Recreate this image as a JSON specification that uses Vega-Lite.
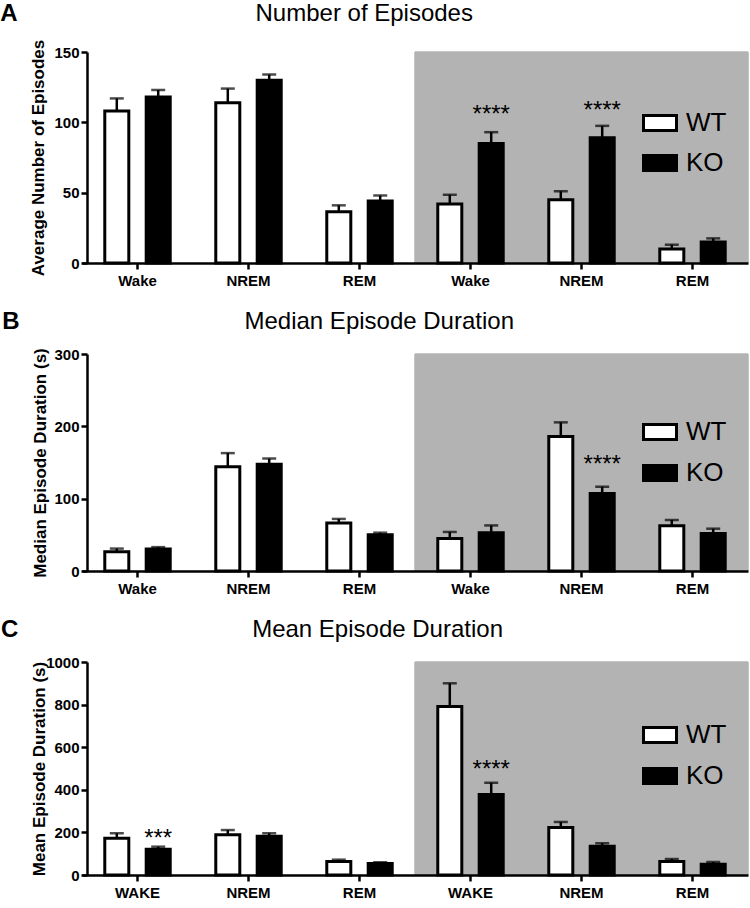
{
  "$schema": "https://vega.github.io/schema/vega-lite/v6.json",
  "padding": {"left": 0, "top": 2, "right": 0, "bottom": 0},
  "datasets": {
    "A": [
      {"cat": "Wake|L", "phase": "Light", "grp": "WT", "mean": 108, "upper": 117},
      {"cat": "Wake|L", "phase": "Light", "grp": "KO", "mean": 118, "upper": 123},
      {"cat": "NREM|L", "phase": "Light", "grp": "WT", "mean": 114, "upper": 124},
      {"cat": "NREM|L", "phase": "Light", "grp": "KO", "mean": 130, "upper": 134},
      {"cat": "REM|L", "phase": "Light", "grp": "WT", "mean": 36.5, "upper": 41},
      {"cat": "REM|L", "phase": "Light", "grp": "KO", "mean": 44, "upper": 48},
      {"cat": "Wake|D", "phase": "Dark", "grp": "WT", "mean": 42, "upper": 48.5},
      {"cat": "Wake|D", "phase": "Dark", "grp": "KO", "mean": 85, "upper": 93},
      {"cat": "NREM|D", "phase": "Dark", "grp": "WT", "mean": 45, "upper": 51},
      {"cat": "NREM|D", "phase": "Dark", "grp": "KO", "mean": 89, "upper": 97.5},
      {"cat": "REM|D", "phase": "Dark", "grp": "WT", "mean": 10, "upper": 13},
      {"cat": "REM|D", "phase": "Dark", "grp": "KO", "mean": 15, "upper": 17.5}
    ],
    "Asig": [
      {"cat": "Wake|D", "grp": "KO", "sig": "****", "pos": 105},
      {"cat": "NREM|D", "grp": "KO", "sig": "****", "pos": 108}
    ],
    "B": [
      {"cat": "Wake|L", "phase": "Light", "grp": "WT", "mean": 26.5, "upper": 31},
      {"cat": "Wake|L", "phase": "Light", "grp": "KO", "mean": 30.5, "upper": 33},
      {"cat": "NREM|L", "phase": "Light", "grp": "WT", "mean": 144, "upper": 163},
      {"cat": "NREM|L", "phase": "Light", "grp": "KO", "mean": 147.5, "upper": 155.5},
      {"cat": "REM|L", "phase": "Light", "grp": "WT", "mean": 66.5, "upper": 72},
      {"cat": "REM|L", "phase": "Light", "grp": "KO", "mean": 50, "upper": 53},
      {"cat": "Wake|D", "phase": "Dark", "grp": "WT", "mean": 45, "upper": 54},
      {"cat": "Wake|D", "phase": "Dark", "grp": "KO", "mean": 53, "upper": 63},
      {"cat": "NREM|D", "phase": "Dark", "grp": "WT", "mean": 186, "upper": 205.5},
      {"cat": "NREM|D", "phase": "Dark", "grp": "KO", "mean": 107, "upper": 116.5},
      {"cat": "REM|D", "phase": "Dark", "grp": "WT", "mean": 62.5, "upper": 70.5},
      {"cat": "REM|D", "phase": "Dark", "grp": "KO", "mean": 52, "upper": 58.5}
    ],
    "Bsig": [
      {"cat": "NREM|D", "grp": "KO", "sig": "****", "pos": 146}
    ],
    "C": [
      {"cat": "WAKE|L", "phase": "Light", "grp": "WT", "mean": 173, "upper": 196},
      {"cat": "WAKE|L", "phase": "Light", "grp": "KO", "mean": 121, "upper": 133},
      {"cat": "NREM|L", "phase": "Light", "grp": "WT", "mean": 189, "upper": 211},
      {"cat": "NREM|L", "phase": "Light", "grp": "KO", "mean": 182, "upper": 196},
      {"cat": "REM|L", "phase": "Light", "grp": "WT", "mean": 63, "upper": 72},
      {"cat": "REM|L", "phase": "Light", "grp": "KO", "mean": 54, "upper": 60},
      {"cat": "WAKE|D", "phase": "Dark", "grp": "WT", "mean": 791, "upper": 900},
      {"cat": "WAKE|D", "phase": "Dark", "grp": "KO", "mean": 378, "upper": 433},
      {"cat": "NREM|D", "phase": "Dark", "grp": "WT", "mean": 223, "upper": 249},
      {"cat": "NREM|D", "phase": "Dark", "grp": "KO", "mean": 135, "upper": 149},
      {"cat": "REM|D", "phase": "Dark", "grp": "WT", "mean": 63, "upper": 75},
      {"cat": "REM|D", "phase": "Dark", "grp": "KO", "mean": 51, "upper": 61}
    ],
    "Csig": [
      {"cat": "WAKE|L", "grp": "KO", "sig": "***", "pos": 171},
      {"cat": "WAKE|D", "grp": "KO", "sig": "****", "pos": 492}
    ]
  },
  "vconcat": [
    {
      "title": {"text": "A", "orient": "left", "anchor": "end", "angle": 0, "baseline": "top", "align": "right", "fontSize": 24, "fontWeight": "bold", "offset": -5, "frame": "bounds"},
      "vconcat": [
        {
          "title": {"text": "Number of Episodes", "dx": -25},
          "width": 666, "height": 211,
          "layer": [
            {
              "data": {"name": "A"},
              "transform": [{"filter": "datum.phase === 'Dark'"}],
              "mark": {"type": "rect", "fill": "#b3b3b3", "stroke": "#b3b3b3", "strokeWidth": 1},
              "encoding": {
                "x": {"field": "cat", "type": "nominal", "scale": {"domain": ["Wake|L", "NREM|L", "REM|L", "Wake|D", "NREM|D", "REM|D"], "paddingInner": 0, "paddingOuter": 0}, "axis": {"labelExpr": "split(datum.value, '|')[0]", "title": null}}
              }
            },
            {
              "data": {"name": "A"},
              "mark": {"type": "bar", "stroke": "black", "strokeWidth": 3},
              "encoding": {
                "x": {"field": "cat", "type": "nominal"},
                "xOffset": {"field": "grp", "type": "nominal", "scale": {"domain": ["WT", "KO"], "paddingInner": 0.42, "paddingOuter": 0.55}},
                "y": {"field": "mean", "type": "quantitative", "scale": {"domain": [0, 150], "nice": false}, "axis": {"title": "Average Number of Episodes", "values": [0, 50, 100, 150], "titlePadding": 6}},
                "fill": {"field": "grp", "type": "nominal", "scale": {"domain": ["WT", "KO"], "range": ["white", "black"]}, "legend": {"orient": "none", "legendX": 560, "legendY": 53, "title": null, "padding": 0, "symbolType": "M-1,-0.45H1V0.45H-1Z", "symbolSize": 1089, "symbolStrokeColor": "black", "symbolStrokeWidth": 3, "labelFontSize": 26, "labelOffset": 8, "rowPadding": 8, "labelColor": "black"}}
              }
            },
            {
              "data": {"name": "A"},
              "mark": {"type": "rule", "color": "black", "strokeWidth": 2.5},
              "encoding": {
                "x": {"field": "cat", "type": "nominal"},
                "xOffset": {"field": "grp", "type": "nominal"},
                "y": {"field": "mean", "type": "quantitative", "title": "Average Number of Episodes"},
                "y2": {"field": "upper"}
              }
            },
            {
              "data": {"name": "A"},
              "mark": {"type": "tick", "color": "black", "thickness": 2.5, "size": 14},
              "encoding": {
                "x": {"field": "cat", "type": "nominal"},
                "xOffset": {"field": "grp", "type": "nominal"},
                "y": {"field": "upper", "type": "quantitative", "title": "Average Number of Episodes"}
              }
            },
            {
              "data": {"name": "Asig"},
              "mark": {"type": "text", "fontSize": 24, "baseline": "middle", "color": "black"},
              "encoding": {
                "x": {"field": "cat", "type": "nominal"},
                "xOffset": {"field": "grp", "type": "nominal"},
                "y": {"field": "pos", "type": "quantitative", "title": "Average Number of Episodes"},
                "text": {"field": "sig"}
              }
            }
          ]
        }
      ]
    },
    {
      "title": {"text": "B", "orient": "left", "anchor": "end", "angle": 0, "baseline": "top", "align": "right", "fontSize": 24, "fontWeight": "bold", "offset": -5, "frame": "bounds"},
      "vconcat": [
        {
          "title": {"text": "Median Episode Duration", "dx": -11},
          "width": 666, "height": 217,
          "layer": [
            {
              "data": {"name": "B"},
              "transform": [{"filter": "datum.phase === 'Dark'"}],
              "mark": {"type": "rect", "fill": "#b3b3b3", "stroke": "#b3b3b3", "strokeWidth": 1},
              "encoding": {
                "x": {"field": "cat", "type": "nominal", "scale": {"domain": ["Wake|L", "NREM|L", "REM|L", "Wake|D", "NREM|D", "REM|D"], "paddingInner": 0, "paddingOuter": 0}, "axis": {"labelExpr": "split(datum.value, '|')[0]", "title": null}}
              }
            },
            {
              "data": {"name": "B"},
              "mark": {"type": "bar", "stroke": "black", "strokeWidth": 3},
              "encoding": {
                "x": {"field": "cat", "type": "nominal"},
                "xOffset": {"field": "grp", "type": "nominal", "scale": {"domain": ["WT", "KO"], "paddingInner": 0.42, "paddingOuter": 0.55}},
                "y": {"field": "mean", "type": "quantitative", "scale": {"domain": [0, 300], "nice": false}, "axis": {"title": "Median Episode Duration (s)", "values": [0, 100, 200, 300], "titlePadding": 4}},
                "fill": {"field": "grp", "type": "nominal", "scale": {"domain": ["WT", "KO"], "range": ["white", "black"]}, "legend": {"orient": "none", "legendX": 560, "legendY": 60, "title": null, "padding": 0, "symbolType": "M-1,-0.45H1V0.45H-1Z", "symbolSize": 1089, "symbolStrokeColor": "black", "symbolStrokeWidth": 3, "labelFontSize": 26, "labelOffset": 8, "rowPadding": 9, "labelColor": "black"}}
              }
            },
            {
              "data": {"name": "B"},
              "mark": {"type": "rule", "color": "black", "strokeWidth": 2.5},
              "encoding": {
                "x": {"field": "cat", "type": "nominal"},
                "xOffset": {"field": "grp", "type": "nominal"},
                "y": {"field": "mean", "type": "quantitative", "title": "Median Episode Duration (s)"},
                "y2": {"field": "upper"}
              }
            },
            {
              "data": {"name": "B"},
              "mark": {"type": "tick", "color": "black", "thickness": 2.5, "size": 14},
              "encoding": {
                "x": {"field": "cat", "type": "nominal"},
                "xOffset": {"field": "grp", "type": "nominal"},
                "y": {"field": "upper", "type": "quantitative", "title": "Median Episode Duration (s)"}
              }
            },
            {
              "data": {"name": "Bsig"},
              "mark": {"type": "text", "fontSize": 24, "baseline": "middle", "color": "black"},
              "encoding": {
                "x": {"field": "cat", "type": "nominal"},
                "xOffset": {"field": "grp", "type": "nominal"},
                "y": {"field": "pos", "type": "quantitative", "title": "Median Episode Duration (s)"},
                "text": {"field": "sig"}
              }
            }
          ]
        }
      ]
    },
    {
      "title": {"text": "C", "orient": "left", "anchor": "end", "angle": 0, "baseline": "top", "align": "right", "fontSize": 24, "fontWeight": "bold", "offset": -5, "frame": "bounds"},
      "vconcat": [
        {
          "title": {"text": "Mean Episode Duration", "dx": -12},
          "width": 666, "height": 213,
          "layer": [
            {
              "data": {"name": "C"},
              "transform": [{"filter": "datum.phase === 'Dark'"}],
              "mark": {"type": "rect", "fill": "#b3b3b3", "stroke": "#b3b3b3", "strokeWidth": 1},
              "encoding": {
                "x": {"field": "cat", "type": "nominal", "scale": {"domain": ["WAKE|L", "NREM|L", "REM|L", "WAKE|D", "NREM|D", "REM|D"], "paddingInner": 0, "paddingOuter": 0}, "axis": {"labelExpr": "split(datum.value, '|')[0]", "title": null}}
              }
            },
            {
              "data": {"name": "C"},
              "mark": {"type": "bar", "stroke": "black", "strokeWidth": 3},
              "encoding": {
                "x": {"field": "cat", "type": "nominal"},
                "xOffset": {"field": "grp", "type": "nominal", "scale": {"domain": ["WT", "KO"], "paddingInner": 0.42, "paddingOuter": 0.55}},
                "y": {"field": "mean", "type": "quantitative", "scale": {"domain": [0, 1000], "nice": false}, "axis": {"title": "Mean Episode Duration (s)", "values": [0, 200, 400, 600, 800, 1000], "format": "d", "titlePadding": -3}},
                "fill": {"field": "grp", "type": "nominal", "scale": {"domain": ["WT", "KO"], "range": ["white", "black"]}, "legend": {"orient": "none", "legendX": 560, "legendY": 55, "title": null, "padding": 0, "symbolType": "M-1,-0.45H1V0.45H-1Z", "symbolSize": 1089, "symbolStrokeColor": "black", "symbolStrokeWidth": 3, "labelFontSize": 26, "labelOffset": 8, "rowPadding": 9, "labelColor": "black"}}
              }
            },
            {
              "data": {"name": "C"},
              "mark": {"type": "rule", "color": "black", "strokeWidth": 2.5},
              "encoding": {
                "x": {"field": "cat", "type": "nominal"},
                "xOffset": {"field": "grp", "type": "nominal"},
                "y": {"field": "mean", "type": "quantitative", "title": "Mean Episode Duration (s)"},
                "y2": {"field": "upper"}
              }
            },
            {
              "data": {"name": "C"},
              "mark": {"type": "tick", "color": "black", "thickness": 2.5, "size": 14},
              "encoding": {
                "x": {"field": "cat", "type": "nominal"},
                "xOffset": {"field": "grp", "type": "nominal"},
                "y": {"field": "upper", "type": "quantitative", "title": "Mean Episode Duration (s)"}
              }
            },
            {
              "data": {"name": "Csig"},
              "mark": {"type": "text", "fontSize": 24, "baseline": "middle", "color": "black"},
              "encoding": {
                "x": {"field": "cat", "type": "nominal"},
                "xOffset": {"field": "grp", "type": "nominal"},
                "y": {"field": "pos", "type": "quantitative", "title": "Mean Episode Duration (s)"},
                "text": {"field": "sig"}
              }
            }
          ]
        }
      ]
    }
  ],
  "spacing": 22,
  "resolve": {"scale": {"x": "independent", "y": "independent", "fill": "independent"}, "legend": {"fill": "independent"}},
  "config": {
    "font": "Liberation Sans",
    "view": {"stroke": null},
    "title": {"fontSize": 24, "fontWeight": "normal", "color": "black", "anchor": "middle", "frame": "bounds", "offset": 13},
    "axis": {"domainColor": "black", "domainWidth": 2.5, "tickColor": "black", "tickWidth": 2.5, "tickSize": 6, "labelColor": "black", "labelFontWeight": "bold", "labelFontSize": 15, "titleColor": "black", "titleFontWeight": "bold", "titleFontSize": 17, "grid": false},
    "axisY": {"offset": -5, "labelPadding": 2},
    "axisX": {"labelPadding": 4, "labelAngle": 0}
  }
}
